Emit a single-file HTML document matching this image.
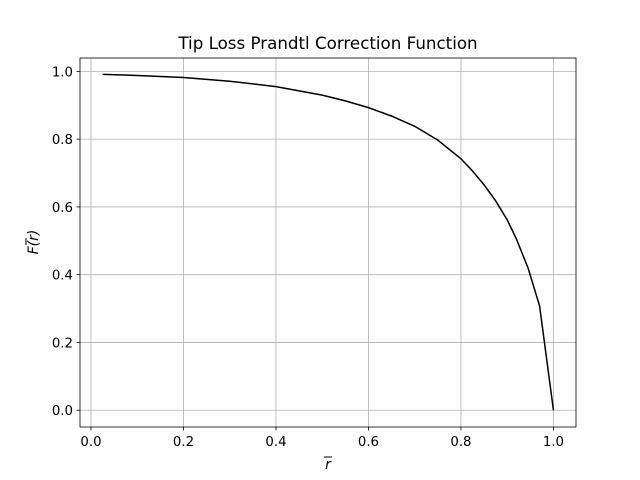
<!DOCTYPE html>
<html><head><meta charset="utf-8"><style>
body{margin:0;background:#fff;}
svg{display:block;font-family:"DejaVu Sans","Liberation Sans",sans-serif;}
</style></head><body>
<svg id="chart" width="640" height="480"></svg>
<script>
const rValues=[0.025,0.1,0.2,0.3,0.4,0.5,0.55,0.6,0.65,0.7,0.75,0.8,0.825,0.85,0.875,0.9,0.92,0.945,0.97,1.0];
const fValues=[0.991,0.988,0.982,0.971,0.955,0.93,0.913,0.893,0.868,0.838,0.797,0.742,0.706,0.665,0.618,0.562,0.505,0.42,0.308,0.0];
const xTicks=[0.0,0.2,0.4,0.6,0.8,1.0];
const yTicks=[0.0,0.2,0.4,0.6,0.8,1.0];
const L=80,R=576,T=58,B=427;
const xmin=-0.02375,xmax=1.04875,ymin=-0.0495,ymax=1.0395;
const sx=v=>L+(v-xmin)/(xmax-xmin)*(R-L);
const sy=v=>B-(v-ymin)/(ymax-ymin)*(B-T);
const svg=document.getElementById('chart');
const NS='http://www.w3.org/2000/svg';
function mk(tag,attrs,parent){const e=document.createElementNS(NS,tag);for(const k in attrs)e.setAttribute(k,attrs[k]);(parent||svg).appendChild(e);return e;}
xTicks.forEach(t=>{
  const x=sx(t);
  const g=mk('line',{x1:x,x2:x,y1:T,y2:B,stroke:'#b0b0b0','stroke-width':0.8});
  
  
  mk('line',{x1:x,x2:x,y1:B,y2:B+3.5,stroke:'#000','stroke-width':0.8});
  const tx=mk('text',{x:x,y:B+19,'text-anchor':'middle','font-size':13.3});
  tx.textContent=t.toFixed(1);
  
  
});
yTicks.forEach(t=>{
  const y=sy(t);
  const g=mk('line',{x1:L,x2:R,y1:y,y2:y,stroke:'#b0b0b0','stroke-width':0.8});
  
  
  mk('line',{x1:L-3.5,x2:L,y1:y,y2:y,stroke:'#000','stroke-width':0.8});
  const tx=mk('text',{x:L-7,y:y+5,'text-anchor':'end','font-size':13.3});
  tx.textContent=t.toFixed(1);
  
  
});
const pts=rValues.map((r,i)=>sx(r)+','+sy(fValues[i])).join(' ');
const line=mk('polyline',{points:pts,fill:'none',stroke:'#000','stroke-width':1.5});


const frame=mk('rect',{x:L,y:T,width:R-L,height:B-T,fill:'none',stroke:'#000','stroke-width':0.8});


const title=mk('text',{x:(L+R)/2,y:49,'text-anchor':'middle','font-size':16.7});
title.textContent='Tip Loss Prandtl Correction Function';


const xl=mk('text',{x:(L+R)/2,y:469,'text-anchor':'middle','font-size':14,'font-style':'italic'});
xl.textContent='r';


mk('line',{x1:(L+R)/2-4,x2:(L+R)/2+4,y1:457,y2:457,stroke:'#000','stroke-width':1});
const yl=mk('text',{x:38,y:242,'text-anchor':'middle','font-size':14,'font-style':'italic',transform:'rotate(-90 38 242)'});
yl.textContent='F(r)';


mk('line',{x1:26,x2:26,y1:238,y2:245,stroke:'#000','stroke-width':1});
</script>
</body></html>
